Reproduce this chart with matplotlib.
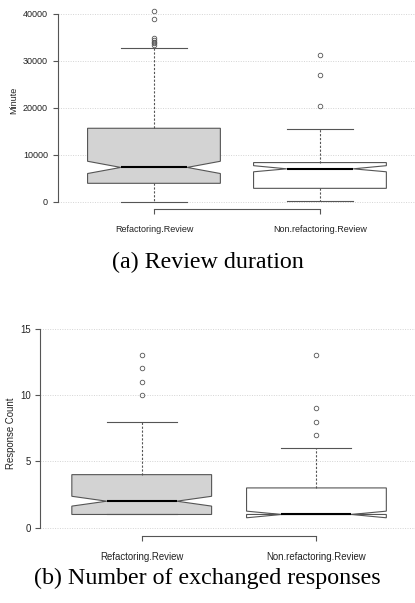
import matplotlib
matplotlib.use("Agg")
import matplotlib.pyplot as plt

# ---- data ----
groups = ["Refactoring.Review", "Non.refactoring.Review"]

# (a) Review duration, minutes
dur_q1 = [3970, 2900]
dur_med = [7350, 7050]
dur_q3 = [15680, 8380]
dur_cilo = [6050, 6420]
dur_cihi = [8660, 7720]
dur_whislo = [0, 150]
dur_whishi = [32700, 15480]
dur_fliers = [[40700, 38900, 34950, 34500, 34100, 33750, 33400],
              [31300, 27000, 20400]]
dur_yticks = [0, 10000, 20000, 30000, 40000]

# (b) Number of exchanged responses
resp_q1 = [1, 1]
resp_med = [2, 1]
resp_q3 = [4, 3]
resp_cilo = [1.63, 0.75]
resp_cihi = [2.37, 1.25]
resp_whislo = [1, 1]
resp_whishi = [8, 6]
resp_fliers = [[10, 11, 12, 13], [7, 8, 9, 13]]
resp_yticks = [0, 5, 10, 15]

fills = ["#D3D3D3", "#FFFFFF"]
edge = "#555555"

plt.rcParams["font.family"] = ["Liberation Sans", "DejaVu Sans"]

fig = plt.figure(figsize=(4.15, 6.03), dpi=100)


def make_stats(q1, med, q3, cilo, cihi, wlo, whi, fl):
    out = []
    for i in range(len(q1)):
        out.append(dict(q1=q1[i], med=med[i], q3=q3[i], cilo=cilo[i], cihi=cihi[i],
                        whislo=wlo[i], whishi=whi[i], fliers=fl[i], label=groups[i]))
    return out


def draw(ax, stats, yticks, ylim, fs):
    ax.set_xlim(0.42, 2.58)
    ax.set_ylim(*ylim)
    ax.set_axisbelow(True)
    for y in yticks:
        ax.axhline(y, color="#d4d4d4", lw=0.7, ls=(0, (1, 1.5)), zorder=0)
    bp = ax.bxp(stats, positions=[1, 2], widths=0.8, capwidths=0.4, shownotches=True,
                patch_artist=True,
                boxprops=dict(edgecolor=edge, linewidth=0.8),
                whiskerprops=dict(color=edge, linewidth=0.8, linestyle=(0, (2, 1.5))),
                capprops=dict(color=edge, linewidth=0.8),
                medianprops=dict(color="black", linewidth=1.5),
                flierprops=dict(marker="o", markerfacecolor="none", markeredgecolor=edge,
                                markersize=3.3, markeredgewidth=0.6, linestyle="none"))
    for patch, c in zip(bp["boxes"], fills):
        patch.set_facecolor(c)
    for s in ["top", "right"]:
        ax.spines[s].set_visible(False)
    ax.spines["left"].set_bounds(yticks[0], yticks[-1])
    ax.spines["bottom"].set_bounds(1, 2)
    for s in ["left", "bottom"]:
        ax.spines[s].set_color(edge)
        ax.spines[s].set_linewidth(0.8)
    ax.set_yticks(yticks)
    ax.set_yticklabels([str(v) for v in yticks])
    ax.set_xticks([1, 2])
    ax.set_xticklabels(groups)
    ax.tick_params(axis="both", direction="out", length=3.5, width=0.8, color=edge,
                   labelsize=fs, labelcolor="#222222")
    ax.tick_params(axis="x", pad=8)
    ax.tick_params(axis="y", pad=3.5)


ax1 = fig.add_axes([0.139, 0.6526, 0.864, 0.3367])
draw(ax1, make_stats(dur_q1, dur_med, dur_q3, dur_cilo, dur_cihi, dur_whislo, dur_whishi, dur_fliers),
     dur_yticks, (-1600, 41600), 6.5)

ax2 = fig.add_axes([0.0973, 0.1116, 0.9094, 0.3566])
draw(ax2, make_stats(resp_q1, resp_med, resp_q3, resp_cilo, resp_cihi, resp_whislo, resp_whishi, resp_fliers),
     resp_yticks, (-0.6, 15.6), 6.9)

fig.text(14 / 415, 1 - 100 / 603, "Minute", rotation=90, ha="center", va="center",
         fontsize=6.5, color="#222222")
fig.text(11 / 415, 1 - 433 / 603, "Response Count", rotation=90, ha="center", va="center",
         fontsize=6.9, color="#222222")

fig.text(0.5, 1 - 262 / 603, "(a) Review duration", ha="center", va="center",
         fontsize=17.3, family=["Liberation Serif", "DejaVu Serif"])
fig.text(0.5, 1 - 578 / 603, "(b) Number of exchanged responses", ha="center", va="center",
         fontsize=17.3, family=["Liberation Serif", "DejaVu Serif"])

fig.savefig("out.png", dpi=100)
